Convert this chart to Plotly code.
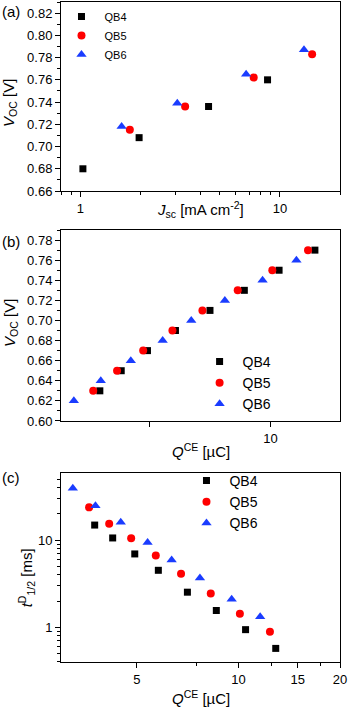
import numpy as np
import plotly.graph_objects as go

# ---- panel (a): Voc vs Jsc ----
jsc_qb4 = [1.03, 1.97, 4.39, 8.67]
voc_a_qb4 = [0.680, 0.708, 0.736, 0.760]
jsc_qb5 = [1.77, 3.35, 7.39, 14.5]
voc_a_qb5 = [0.715, 0.736, 0.762, 0.783]
jsc_qb6 = [1.61, 3.06, 6.77, 13.2]
voc_a_qb6 = [0.718, 0.739, 0.765, 0.787]

# ---- panels (b), (c): charge extraction ----
q_qb4 = [3.75, 4.24, 4.93, 5.79, 7.06, 8.60, 10.5, 12.9]
voc_qb4 = [0.63, 0.65, 0.67, 0.69, 0.71, 0.73, 0.75, 0.77]
t_qb4 = [14.9, 10.6, 6.95, 4.51, 2.53, 1.56, 0.94, 0.573]

q_qb5 = [3.61, 4.14, 4.81, 5.69, 6.76, 8.28, 10.1, 12.4]
voc_qb5 = [0.63, 0.65, 0.67, 0.69, 0.71, 0.73, 0.75, 0.77]
t_qb5 = [23.8, 15.4, 10.5, 6.65, 4.13, 2.45, 1.43, 0.89]

q_qb6 = [3.23, 3.77, 4.48, 5.38, 6.34, 7.69, 9.55, 11.6]
voc_qb6 = [0.62, 0.64, 0.66, 0.68, 0.70, 0.72, 0.74, 0.76]
t_qb6 = [39.4, 24.9, 16.0, 9.4, 5.93, 3.69, 2.10, 1.32]

names = ["QB4", "QB5", "QB6"]
colors = ["#000000", "#ff0000", "#1a3cff"]
symbols = ["square", "circle", "triangle-up"]
sizes = [7, 8, 9]

FONT = "Liberation Sans, Arial, sans-serif"

fig = go.Figure()

panels = [
    ("x", "y", "legend", [jsc_qb4, jsc_qb5, jsc_qb6], [voc_a_qb4, voc_a_qb5, voc_a_qb6]),
    ("x2", "y2", "legend2", [q_qb4, q_qb5, q_qb6], [voc_qb4, voc_qb5, voc_qb6]),
    ("x3", "y3", "legend3", [q_qb4, q_qb5, q_qb6], [t_qb4, t_qb5, t_qb6]),
]

for xa, ya, leg, xs, ys in panels:
    for i in range(3):
        fig.add_trace(go.Scatter(
            x=xs[i], y=ys[i], mode="markers", name=names[i],
            marker=dict(symbol=symbols[i], color=colors[i], size=sizes[i], line=dict(width=0)),
            xaxis=xa, yaxis=ya, legend=leg,
        ))

def log_minor(lo, hi):
    vals = []
    for d in range(-2, 3):
        for m in range(1, 10):
            v = m * 10.0 ** d
            if lo <= v <= hi:
                vals.append(v)
    return vals

axis_common = dict(
    showline=True, linecolor="black", linewidth=1, mirror=True,
    ticks="outside", ticklen=5, tickwidth=1, tickcolor="black",
    showgrid=False, zeroline=False, automargin=False,
    tickfont=dict(family=FONT, size=13, color="black"),
)

# domains (plot area 61..340 px wide, 2..662 px tall)
fig.update_layout(
    xaxis=dict(axis_common, domain=[0, 1], anchor="y", type="log",
               range=[np.log10(0.8), np.log10(20)],
               tickvals=[1, 10], ticktext=["1", "10"],
               minor=dict(tickmode="array", tickvals=log_minor(0.8, 20), ticks="outside", ticklen=3, tickcolor="black")),
    yaxis=dict(axis_common, domain=[0.7136, 1.0], anchor="x",
               range=[0.66, 0.83], tickvals=[0.66, 0.68, 0.70, 0.72, 0.74, 0.76, 0.78, 0.80, 0.82],
               ticktext=["0.66", "0.68", "0.70", "0.72", "0.74", "0.76", "0.78", "0.80", "0.82"],
               minor=dict(dtick=0.01, tick0=0.66, ticks="outside", ticklen=3, tickcolor="black")),
    xaxis2=dict(axis_common, domain=[0, 1], anchor="y2", type="log",
                range=[np.log10(3.0), np.log10(14.9)],
                tickvals=[5, 10, 15], ticktext=["", "10", ""]),
    yaxis2=dict(axis_common, domain=[0.3652, 0.6545], anchor="x2",
                range=[0.60, 0.79], tickvals=[0.60, 0.62, 0.64, 0.66, 0.68, 0.70, 0.72, 0.74, 0.76, 0.78],
                ticktext=["0.60", "0.62", "0.64", "0.66", "0.68", "0.70", "0.72", "0.74", "0.76", "0.78"],
                minor=dict(dtick=0.01, tick0=0.60, ticks="outside", ticklen=3, tickcolor="black")),
    xaxis3=dict(axis_common, domain=[0, 1], anchor="y3", type="log",
                range=[np.log10(2.98), np.log10(20)],
                tickvals=[5, 10, 15, 20], ticktext=["5", "10", "15", "20"],
                minor=dict(tickmode="array", tickvals=[7.5, 12.5, 17.5], ticks="outside", ticklen=3, tickcolor="black")),
    yaxis3=dict(axis_common, domain=[0, 0.2864], anchor="x3", type="log",
                range=[np.log10(0.4), np.log10(59)],
                tickvals=[1, 10], ticktext=["1", "10"],
                minor=dict(tickmode="array", tickvals=log_minor(0.4, 59), ticks="outside", ticklen=3, tickcolor="black")),
)

# axis titles as annotations so they sit where the original has them
title_font = dict(family=FONT, size=15, color="black")
titles = [
    ("<i>J</i><sub>sc</sub> [mA cm<sup>-2</sup>]", 0.5, 0.685, 0),
    ("<i>V</i><sub>OC</sub> [V]", -0.183, 0.847, -90),
    ("<i>Q</i><sup>CE</sup> [\u00b5C]", 0.5, 0.321, 0),
    ("<i>V</i><sub>OC</sub> [V]", -0.183, 0.5136, -90),
    ("<i>Q</i><sup>CE</sup> [\u00b5C]", 0.5, -0.0545, 0),
    ("<i>t</i><sup>D</sup><sub>1/2</sub> [ms]", -0.125, 0.127, -90),
]
for txt, xx, yy, ang in titles:
    fig.add_annotation(text=txt, xref="paper", yref="paper", x=xx, y=yy,
                       xanchor="center", yanchor="middle", textangle=ang,
                       showarrow=False, font=title_font)

fig.update_layout(
    legend=dict(x=-0.009, y=1.0, xanchor="left", yanchor="top", bgcolor="rgba(0,0,0,0)",
                font=dict(family=FONT, size=11, color="black"), itemwidth=36, tracegroupgap=0),
    legend2=dict(x=0.486, y=0.479, xanchor="left", yanchor="top", bgcolor="rgba(0,0,0,0)",
                 font=dict(family=FONT, size=14, color="black"), itemwidth=36),
    legend3=dict(x=0.439, y=0.2985, xanchor="left", yanchor="top", bgcolor="rgba(0,0,0,0)",
                 font=dict(family=FONT, size=14, color="black"), itemwidth=36),
)

for txt, yy in [("(a)", 0.985), ("(b)", 0.637), ("(c)", 0.28)]:
    fig.add_annotation(text=txt, xref="paper", yref="paper", x=-0.219, y=yy,
                       xanchor="left", yanchor="middle", showarrow=False,
                       font=dict(family=FONT, size=15, color="black"))

fig.update_layout(
    width=349, height=707,
    margin=dict(l=61, r=9, t=2, b=45),
    paper_bgcolor="white", plot_bgcolor="white",
    font=dict(family=FONT, size=13, color="black"),
)

# the page's default body margin would shift the figure
fig.write_html("out.html", config={"displayModeBar": False},
               post_script="document.body.style.margin='0px';")
